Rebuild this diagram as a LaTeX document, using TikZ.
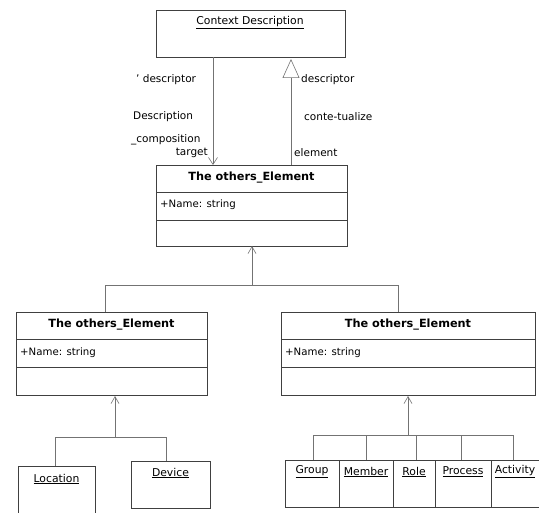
\documentclass[tikz,border=0pt]{standalone}
\usepackage{fontspec}
\setmainfont{DejaVu Sans}
\usetikzlibrary{arrows.meta}
\begin{document}
\begin{tikzpicture}[x=1pt,y=-1pt,
  box/.style={draw=black!75, line width=0.7pt, inner sep=0pt, anchor=north west},
  ln/.style={draw=black!55, line width=0.6pt},
  lbl/.style={font=\fontsize{10.5}{12}\selectfont, inner sep=0pt},
  ttl/.style={font=\fontsize{11.3}{13}\selectfont\bfseries, inner sep=0pt},
  att/.style={font=\fontsize{10.2}{12}\selectfont, inner sep=0pt, anchor=west},
  cls/.style={font=\fontsize{10.8}{12}\selectfont, inner sep=0pt},
  barb/.style={-{Straight Barb[length=7pt,width=8pt]}}]
\useasboundingbox (0,0) rectangle (539,513);
% top box
\node[box, minimum width=189pt, minimum height=47pt] (ctx) at (156,10) {};
\node[cls] (ctxt) at (250,23) {\underline{Context Description}};
% middle class
\node[box, minimum width=191pt, minimum height=81pt] (mid) at (156,165) {};
\node[ttl] (midt) at (251.5,178) {The others\_Element};
\node[att] (mida) at (160,205) {+Name: string};
\draw[box] (156,192) coordinate (m1) -- (347,192);
\draw[box] (156,220) coordinate (m2) -- (347,220);
% associations
\coordinate (a1) at (213,57);
\coordinate (a2) at (213,165);
\draw[ln, -{Straight Barb[length=7pt,width=9pt]}] (a1) -- (a2);
\coordinate (b1) at (291,165);
\coordinate (b2) at (291,59);
\draw[ln, -{Triangle[open,length=19pt,width=17pt]}] (b1) -- (b2);
\node[lbl, anchor=west] (l1) at (136,80) {' descriptor};
\node[lbl, anchor=west] (l2) at (133,117) {Description};
\node[lbl, anchor=west] (l3) at (131,140) {\_composition};
\node[lbl, anchor=east] (l4) at (208,153) {target};
\node[lbl, anchor=west] (r1) at (301,80) {descriptor};
\node[lbl, anchor=west] (r2) at (304,117) {conte-tualize};
\node[lbl, anchor=west] (r3) at (294,153) {element};
% left class
\node[box, minimum width=191pt, minimum height=83pt] (lc) at (16,312) {};
\node[ttl] (lct) at (111.5,325) {The others\_Element};
\node[att] (lca) at (20,353) {+Name: string};
\draw[box] (16,339) -- (207,339);
\draw[box] (16,367) -- (207,367);
% right class
\node[box, minimum width=254pt, minimum height=83pt] (rc) at (281,312) {};
\node[ttl] (rct) at (408,325) {The others\_Element};
\node[att] (rca) at (285,353) {+Name: string};
\draw[box] (281,339) -- (535,339);
\draw[box] (281,367) -- (535,367);
% generalization to middle
\coordinate (j1) at (252,285);
\draw[ln, barb] (j1) -- (252,246);
\draw[ln] (105,312) |- (j1);
\draw[ln] (398,312) |- (j1);
% left subclasses
\node[box, minimum width=77pt, minimum height=50pt] (loc) at (18,466) {};
\node[cls] (loct) at (56.5,479) {\underline{Location}};
\node[box, minimum width=79pt, minimum height=47pt] (dev) at (131,461) {};
\node[cls] (devt) at (170.5,473) {\underline{Device}};
\coordinate (j2) at (115,437);
\draw[ln, barb] (j2) -- (115,396);
\draw[ln] (loc.north -| 55,0) |- (j2);
\draw[ln] (dev.north -| 166,0) |- (j2);
% right subclasses
\node[box, minimum width=54pt, minimum height=47pt] (grp) at (285,460) {};
\node[box, minimum width=54pt, minimum height=47pt] (mem) at (339,460) {};
\node[box, minimum width=42pt, minimum height=47pt] (rol) at (393,460) {};
\node[box, minimum width=56pt, minimum height=47pt] (pro) at (435,460) {};
\node[box, minimum width=48pt, minimum height=47pt] (act) at (491,460) {};
\node[cls] (grpt) at (312,472) {\underline{Group}};
\node[cls] (memt) at (366,472) {\underline{Member}};
\node[cls] (rolt) at (414,472) {\underline{Role}};
\node[cls] (prot) at (463,472) {\underline{Process}};
\node[cls] (actt) at (515,472) {\underline{Activity}};
\coordinate (j3) at (408,435);
\draw[ln, barb] (j3) -- (408,396);
\draw[ln] (313,435) -- (513,435);
\draw[ln] (313,460) -- (313,435);
\draw[ln] (366,460) -- (366,435);
\draw[ln] (416,460) -- (416,435);
\draw[ln] (461,460) -- (461,435);
\draw[ln] (513,460) -- (513,435);
\end{tikzpicture}
\end{document}
